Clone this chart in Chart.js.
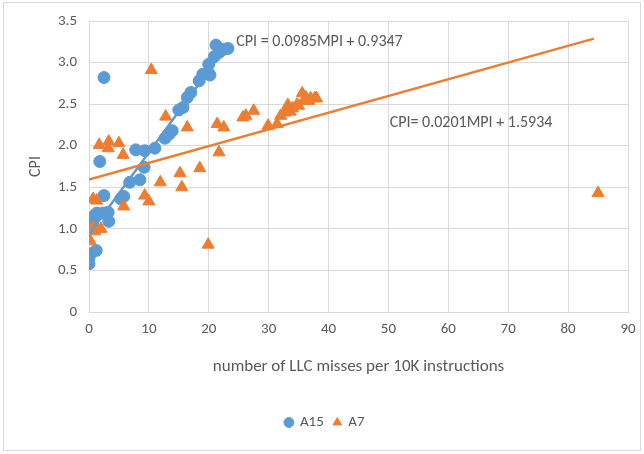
<!DOCTYPE html>
<html>
<head>
<meta charset="utf-8">
<script src="https://cdn.jsdelivr.net/npm/chart.js@4/dist/chart.umd.min.js"></script>
<style>
  html, body { margin: 0; padding: 0; background: #fff; }
  #wrap { width: 644px; height: 454px; position: relative; }
</style>
</head>
<body>
<div id="wrap"><canvas id="chart" width="644" height="454"></canvas></div>
<script>
// A15 : misses per 10K instructions / CPI
const a15X = [2.5, 0, 0, 0.2, 1.2, 0.7, 0.9, 1.3, 1.8, 2.5, 2.3, 3.2, 3.3, 5.3, 5.8, 6.8, 7.8, 8.5, 9.3, 9.2, 11,
  12.7, 13.4, 13.9, 15, 15.7, 16.4, 17, 18.4, 19, 19.9, 20, 20.2, 20.9, 21.2, 21.7, 22.5, 23.2];
const a15Y = [2.82, 0.65, 0.58, 0.7, 0.74, 1.1, 1.16, 1.19, 1.81, 1.40, 1.19, 1.2, 1.09, 1.36, 1.39, 1.56, 1.95, 1.59, 1.94, 1.74, 1.97,
  2.09, 2.14, 2.18, 2.43, 2.46, 2.58, 2.64, 2.78, 2.86, 2.88, 2.98, 2.85, 3.07, 3.21, 3.12, 3.16, 3.17];

// A7
const a7X = [0, 0.2, 0.7, 1, 1.3, 2, 0.7, 1.3, 1.7, 3.3, 3.2, 5, 5.7, 5.8, 9.3, 10, 10.4, 12.8, 11.9, 15.2, 15.5,
  16.4, 18.5, 19.9, 21.4, 21.7, 22.5, 25.7, 26.2, 27.5, 29.9, 31.4, 32, 32.7, 33.2, 33.6, 34, 34.7, 35, 35.6,
  35.9, 36.2, 36.7, 37, 37.7, 38, 85];
const a7Y = [0.88, 0.85, 1.02, 0.97, 1.0, 1.0, 1.36, 1.34, 2.01, 2.05, 1.97, 2.03, 1.89, 1.27, 1.40, 1.33, 2.91, 2.35, 1.56, 1.67, 1.5,
  2.22, 1.73, 0.81, 2.26, 1.92, 2.22, 2.34, 2.36, 2.42, 2.24, 2.26, 2.36, 2.4, 2.49, 2.41, 2.45, 2.49, 2.48, 2.63,
  2.54, 2.58, 2.54, 2.57, 2.57, 2.57, 1.43];

// trend line end points
const trendA15X = [0, 23.2];
const trendA15Y = [0.935, 3.22];
const trendA7X = [0, 84.3];
const trendA7Y = [1.593, 3.288];

const eqA15 = 'CPI = 0.0985MPI + 0.9347';
const eqA7 = 'CPI= 0.0201MPI + 1.5934';

const xTicks = [0, 10, 20, 30, 40, 50, 60, 70, 80, 90];
const yTicks = [0, 0.5, 1, 1.5, 2, 2.5, 3, 3.5];

const blue = '#5B9BD5';
const orange = '#ED7D31';
const grey = '#595959';
const font = 'Carlito, Lato, sans-serif';

function pts(xs, ys) {
  return xs.map((x, i) => ({ x: x, y: ys[i] }));
}

// cadre autour du graphique + équations
const extras = {
  id: 'extras',
  afterDatasetsDraw(chart) {
    const ctx = chart.ctx;
    const sx = chart.scales.x, sy = chart.scales.y;
    ctx.save();
    ctx.fillStyle = grey;
    ctx.font = '16px ' + font;
    ctx.textAlign = 'left';
    ctx.textBaseline = 'middle';
    ctx.fillText(eqA15, sx.getPixelForValue(24.6), sy.getPixelForValue(3.25));
    ctx.fillText(eqA7, sx.getPixelForValue(50.2), sy.getPixelForValue(2.27));
    ctx.restore();
  },
  afterDraw(chart) {
    const ctx = chart.ctx;
    ctx.save();
    ctx.strokeStyle = '#d9d9d9';
    ctx.lineWidth = 1;
    ctx.strokeRect(3.5, 2.5, 637, 448);
    ctx.restore();
  }
};

new Chart(document.getElementById('chart'), {
  type: 'scatter',
  data: {
    datasets: [
      { label: 'A15', data: pts(a15X, a15Y), backgroundColor: blue, borderColor: blue,
        pointStyle: 'circle', pointRadius: 6, order: 3 },
      { label: 'A7', data: pts(a7X, a7Y), backgroundColor: orange, borderColor: orange,
        pointStyle: 'triangle', pointRadius: 7, order: 2 },
      { label: 'trendA15', type: 'line', data: pts(trendA15X, trendA15Y), borderColor: blue,
        borderWidth: 2.5, pointRadius: 0, showLine: true, fill: false, order: 1 },
      { label: 'trendA7', type: 'line', data: pts(trendA7X, trendA7Y), borderColor: orange,
        borderWidth: 2.5, pointRadius: 0, showLine: true, fill: false, order: 0 }
    ]
  },
  options: {
    responsive: false,
    animation: false,
    layout: { padding: { left: 22, right: 16, top: 20, bottom: 14 } },
    plugins: {
      tooltip: { enabled: false },
      legend: {
        position: 'bottom',
        labels: {
          usePointStyle: true,
          boxWidth: 7,
          boxHeight: 7,
          padding: 10,
          color: grey,
          font: { family: font, size: 15 },
          filter: item => item.datasetIndex < 2,
          sort: (a, b) => a.datasetIndex - b.datasetIndex
        }
      }
    },
    scales: {
      x: {
        type: 'linear',
        min: 0, max: 90,
        afterBuildTicks: s => { s.ticks = xTicks.map(v => ({ value: v })); },
        afterFit: s => { s.height = 93; },
        grid: { color: '#d9d9d9', drawTicks: false },
        border: { color: '#d9d9d9' },
        ticks: { color: grey, font: { family: font, size: 15 }, padding: 8 },
        title: { display: true, text: 'number of LLC misses per 10K instructions', color: grey,
          font: { family: font, size: 17 }, padding: { top: 4, bottom: 28 } }
      },
      y: {
        type: 'linear',
        min: 0, max: 3.5,
        afterBuildTicks: s => { s.ticks = yTicks.map(v => ({ value: v })); },
        afterFit: s => { s.width = 67; },
        grid: { color: '#d9d9d9', drawTicks: false },
        border: { color: '#d9d9d9' },
        ticks: { color: grey, font: { family: font, size: 15 }, padding: 12 },
        title: { display: true, text: 'CPI', color: grey, font: { family: font, size: 16 } }
      }
    }
  },
  plugins: [extras]
});
</script>
</body>
</html>
